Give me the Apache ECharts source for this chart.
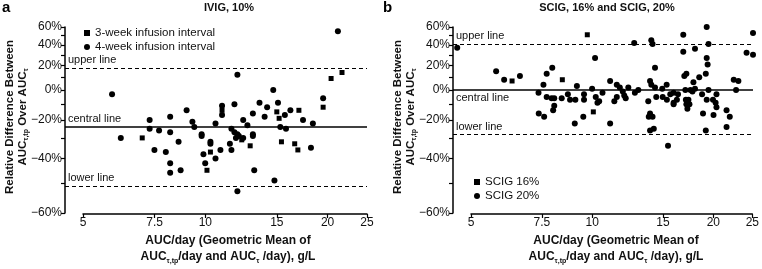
<!DOCTYPE html>
<html>
<head>
<meta charset="utf-8">
<script src="https://cdn.jsdelivr.net/npm/echarts@6/dist/echarts.min.js"></script>
<style>
  html, body { margin: 0; padding: 0; background: #fff; }
  #chart { width: 762px; height: 269px; }
</style>
</head>
<body>
<div id="chart"></div>
<script>
// [AUC/day in g/L, relative difference in %]
const ivig3Week = [
  [21.7, 14], [20.4, 9], [19.5, -12], [11.0, -14], [15.0, -15], [15.2, -19], [17.0, -14],
  [7.0, -30], [10.3, -37], [10.1, -45], [12.3, -31], [12.9, -34], [15.4, -32], [16.6, -33], [16.9, -36]
];
const ivig4Week = [
  [21.2, 55], [12.0, 12], [5.9, -3], [14.7, 0], [19.5, -6], [9.0, -14], [11.0, -11], [11.0, -17],
  [11.8, -10], [13.6, -9], [14.2, -12], [15.1, -9], [16.2, -14], [15.7, -17], [8.2, -18], [7.3, -20],
  [9.3, -21], [9.4, -24], [12.4, -20], [13.1, -16], [14.0, -18], [17.4, -20], [18.4, -22], [10.6, -22],
  [7.3, -25], [7.7, -26], [8.2, -27], [9.8, -28], [11.6, -25], [11.8, -27], [12.0, -28], [12.1, -29],
  [12.7, -23], [13.1, -28], [15.3, -24], [15.8, -25], [6.2, -30], [9.8, -29], [11.9, -30], [12.4, -30],
  [13.1, -29], [7.5, -36], [8.0, -37], [8.6, -32], [8.2, -42], [8.2, -46], [8.7, -45], [9.9, -38],
  [10.0, -42], [10.3, -32], [10.3, -33], [10.6, -40], [10.9, -36], [11.5, -33], [11.6, -36],
  [12.0, -53], [13.2, -45], [14.8, -49], [18.2, -35]
];
const scig16 = [[6.33, 7], [9.72, 51], [8.43, 8], [10.06, -15]];
const scig20 = [
  [4.63, 37], [5.78, 15], [6.05, 8], [6.62, 11], [7.36, -2], [7.57, 4], [7.71, 13], [7.96, 18],
  [7.71, -5], [7.93, -6], [8.05, -6], [8.05, -11], [8.0, -14], [7.37, -16], [7.6, -18], [8.4, -6],
  [8.81, -7], [9.16, 3], [9.08, -7], [9.54, -7], [9.54, -3], [9.05, -22], [9.5, -18], [9.99, 1],
  [10.16, 27], [10.2, -5], [10.3, -9], [10.4, -8], [10.6, -2], [11.07, 7], [11.07, -22], [11.34, -8],
  [11.5, 4], [11.5, -5], [11.7, 2], [11.9, -1], [12.0, -4], [12.1, -6], [12.28, 2], [12.75, -2],
  [12.7, 42], [13.0, 0], [13.76, -8], [13.8, -18], [14.1, -18], [13.9, 7], [14.0, 45], [14.1, 41],
  [14.3, 18], [14.3, 2], [14.0, 4], [13.9, -16], [13.9, -26], [14.2, -25], [14.4, -5], [14.94, -5],
  [14.9, 1], [15.28, 4], [15.3, -7], [15.6, -3], [15.9, -9], [15.9, -2], [16.2, -7], [16.3, -3],
  [15.9, -10], [16.8, 33], [17.0, 0], [17.05, -7], [17.1, -10], [17.3, -7], [17.2, -13], [17.4, -10],
  [16.8, 51], [16.9, 11], [17.1, 13], [17.5, 0], [17.7, -1], [17.96, 1], [17.96, 36], [17.8, 6],
  [18.4, 10], [18.7, -3], [19.2, 60], [18.8, -16], [19.2, -7], [19.4, 0], [19.1, 13], [19.3, 21],
  [19.4, 41], [19.2, 27], [19.96, -17], [19.9, -7], [20.2, -9], [20.3, -12], [21.5, -14], [21.9, -18],
  [21.5, -24], [20.3, -3], [22.4, 8], [23.0, 7], [22.7, 0], [24.1, 32], [25.0, 30], [25.0, 53],
  [15.4, -34], [19.1, -26], [8.7, -3]
];
// upper, central, lower line (%)
const ivigLimits = [18, -24, -51];
const scigLimits = [40.6, 0.5, -28];
const xTicks = [5, 7.5, 10, 15, 20, 25];
const yTicks = [-60, -40, -20, 0, 20, 40, 60];
const yMinorTicks = [-60, -50, -40, -30, -20, -10, 0, 10, 20, 30, 40, 50, 60];

const FONT = 'Liberation Sans';
const toRatio = p => +(1 + p / 100).toFixed(4);
const pts = arr => arr.map(d => [d[0], toRatio(d[1])]);

function yAxisFor(grid) {
  return {
    gridIndex: grid,
    type: 'log',
    min: 0.4,
    max: 1.6,
    axisLine: { show: true, onZero: false, lineStyle: { color: '#000', width: 1.5 } },
    axisTick: { show: true, length: 4, lineStyle: { color: '#000', width: 1.2 }, customValues: yMinorTicks.map(toRatio) },
    axisLabel: {
      customValues: yTicks.map(toRatio),
      margin: 3,
      color: '#111',
      fontFamily: FONT,
      fontSize: 12,
      formatter: v => {
        const p = Math.round((v - 1) * 100);
        return (p < 0 ? '\u2212' + (-p) : p) + '%';
      }
    },
    splitLine: { show: false }
  };
}

function xAxisFor(grid, visible) {
  return {
    gridIndex: grid,
    type: 'log',
    show: visible,
    min: visible ? 5 : 4.52,
    max: 25,
    axisLine: { show: true, onZero: false, lineStyle: { color: '#000', width: 1.5 } },
    axisTick: { show: true, length: 4, lineStyle: { color: '#000', width: 1.2 }, customValues: xTicks },
    axisLabel: {
      customValues: xTicks,
      margin: 3,
      color: '#111',
      fontFamily: FONT,
      fontSize: 12,
      formatter: v => String(+(+v).toPrecision(3))
    },
    splitLine: { show: false }
  };
}

function limitLines(limits, centralBelow) {
  const lbl = (t, pos) => ({ formatter: t, position: pos, distance: [3, 2], color: '#111', fontFamily: FONT, fontSize: 11 });
  return {
    symbol: 'none',
    silent: true,
    animation: false,
    data: [
      { yAxis: toRatio(limits[0]), lineStyle: { type: [4, 3], width: 1.2, color: '#000' }, label: lbl('upper line', 'insideStartTop') },
      { yAxis: toRatio(limits[1]), lineStyle: { type: 'solid', width: 1.5, color: '#000' }, label: lbl('central line', centralBelow ? 'insideStartBottom' : 'insideStartTop') },
      { yAxis: toRatio(limits[2]), lineStyle: { type: [4, 3], width: 1.2, color: '#000' }, label: lbl('lower line', 'insideStartTop') }
    ]
  };
}

const hiddenY = g => ({ gridIndex: g, type: 'value', show: false });
const dot = { color: '#000', opacity: 1 };

const chart = echarts.init(document.getElementById('chart'));
chart.setOption({
  animation: false,
  textStyle: { fontFamily: FONT, color: '#111' },
  grid: [
    { left: 65, right: 395, top: 27, bottom: 56 },
    { left: 83, right: 395, top: 27, bottom: 55 },
    { left: 453, right: 9, top: 27, bottom: 56 },
    { left: 471, right: 9, top: 27, bottom: 55 }
  ],
  xAxis: [xAxisFor(0, false), xAxisFor(1, true), xAxisFor(2, false), xAxisFor(3, true)],
  yAxis: [yAxisFor(0), hiddenY(1), yAxisFor(2), hiddenY(3)],
  legend: [
    {
      data: ['3-week infusion interval', '4-week infusion interval'],
      orient: 'vertical', left: 79, top: 22, itemWidth: 6, itemHeight: 6, itemGap: 2,
      textStyle: { fontFamily: FONT, fontSize: 11.5, color: '#111' }
    },
    {
      data: ['SCIG 16%', 'SCIG 20%'],
      orient: 'vertical', left: 469, top: 171, itemWidth: 6, itemHeight: 6, itemGap: 2,
      textStyle: { fontFamily: FONT, fontSize: 11.5, color: '#111' }
    }
  ],
  series: [
    { name: '3-week infusion interval', type: 'scatter', xAxisIndex: 0, yAxisIndex: 0, symbol: 'rect', symbolSize: 5,
      itemStyle: dot, data: pts(ivig3Week) },
    { name: '4-week infusion interval', type: 'scatter', xAxisIndex: 0, yAxisIndex: 0, symbol: 'circle', symbolSize: 6,
      itemStyle: dot, data: pts(ivig4Week), markLine: limitLines(ivigLimits, false) },
    { name: 'SCIG 16%', type: 'scatter', xAxisIndex: 2, yAxisIndex: 2, symbol: 'rect', symbolSize: 5,
      itemStyle: dot, data: pts(scig16) },
    { name: 'SCIG 20%', type: 'scatter', xAxisIndex: 2, yAxisIndex: 2, symbol: 'circle', symbolSize: 6,
      itemStyle: dot, data: pts(scig20), markLine: limitLines(scigLimits, true) }
  ],
  graphic: [
    { type: 'text', x: 2, y: 0, style: { text: 'a', font: 'bold 15px ' + FONT, fill: '#000' } },
    { type: 'text', x: 383, y: 0, style: { text: 'b', font: 'bold 15px ' + FONT, fill: '#000' } },
    { type: 'text', x: 229, y: 8, style: { text: 'IVIG, 10%', font: 'bold 11px ' + FONT, fill: '#111', align: 'center', verticalAlign: 'middle' } },
    { type: 'text', x: 607, y: 8, style: { text: 'SCIG, 16% and SCIG, 20%', font: 'bold 11px ' + FONT, fill: '#111', align: 'center', verticalAlign: 'middle' } },
    ...[16.5, 404.5].map(cx => ({
      type: 'text', x: cx, y: 117, rotation: Math.PI / 2,
      style: {
        text: '{b|Relative Difference Between}\n{b|AUC}{s|τ,tp}{b| Over AUC}{s|τ}',
        align: 'center', verticalAlign: 'middle', fill: '#111',
        rich: {
          b: { fontFamily: FONT, fontWeight: 'bold', fontSize: 11.5, lineHeight: 13 },
          s: { fontFamily: FONT, fontWeight: 'bold', fontSize: 7, lineHeight: 13, verticalAlign: 'bottom', padding: [5, 0, 0, 0] }
        }
      }
    })),
    ...[228, 616].map(cx => ({
      type: 'text', x: cx, y: 249,
      style: {
        text: '{b|AUC/day (Geometric Mean of}\n{b|AUC}{s|τ,tp}{b|/day and AUC}{s|τ}{b| /day), g/L}',
        align: 'center', verticalAlign: 'middle', fill: '#111',
        rich: {
          b: { fontFamily: FONT, fontWeight: 'bold', fontSize: 12, lineHeight: 16 },
          s: { fontFamily: FONT, fontWeight: 'bold', fontSize: 7, lineHeight: 16, verticalAlign: 'bottom', padding: [6, 0, 0, 0] }
        }
      }
    }))
  ]
});
</script>
</body>
</html>
